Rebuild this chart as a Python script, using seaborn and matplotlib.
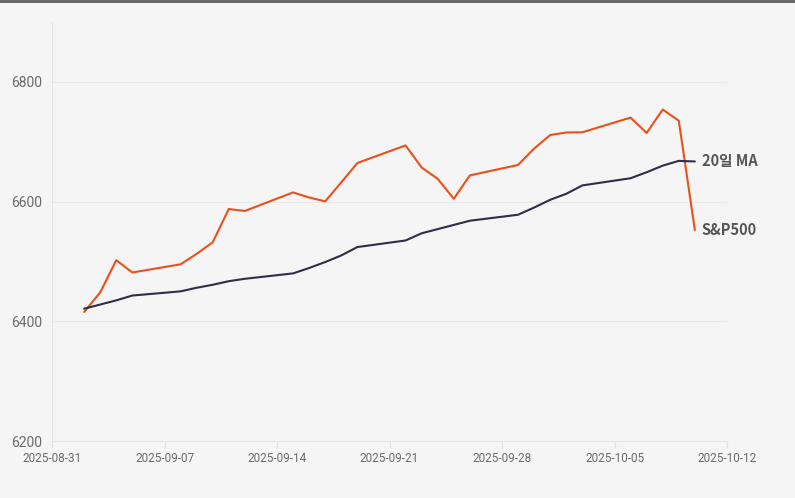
import pandas as pd
import seaborn as sns
import numpy as np
import matplotlib.pyplot as plt
import matplotlib.dates as mdates
from matplotlib.patches import Rectangle

dates = ['2025-09-02', '2025-09-03', '2025-09-04', '2025-09-05',
         '2025-09-08', '2025-09-09', '2025-09-10', '2025-09-11', '2025-09-12',
         '2025-09-15', '2025-09-16', '2025-09-17', '2025-09-18', '2025-09-19',
         '2025-09-22', '2025-09-23', '2025-09-24', '2025-09-25', '2025-09-26',
         '2025-09-29', '2025-09-30', '2025-10-01', '2025-10-02', '2025-10-03',
         '2025-10-06', '2025-10-07', '2025-10-08', '2025-10-09', '2025-10-10']
spx = [6415.5, 6448.3, 6502.1, 6481.5,
       6495.2, 6512.6, 6532.0, 6587.5, 6584.3,
       6615.3, 6606.8, 6600.4, 6632.0, 6664.4,
       6693.8, 6656.9, 6638.0, 6604.7, 6643.7,
       6661.2, 6688.5, 6711.2, 6715.4, 6715.8,
       6740.3, 6714.6, 6753.7, 6735.1, 6552.5]
ma20 = [6421, 6428, 6435, 6443,
        6450, 6456, 6461, 6467, 6471,
        6480, 6489, 6499, 6510, 6524,
        6535, 6547, 6554, 6561, 6568,
        6578, 6590, 6603, 6613, 6627,
        6639, 6649, 6660, 6668, 6667]
y_ticks = [6200, 6400, 6600, 6800]
x_ticks = ['2025-08-31', '2025-09-07', '2025-09-14', '2025-09-21',
           '2025-09-28', '2025-10-05', '2025-10-12']

bg = '#f5f5f5'
orange = '#e8501c'
navy = '#2f2d48'
label_gray = '#555555'
tick_gray = '#6a6a6a'

df = pd.DataFrame({
    'date': pd.to_datetime(dates * 2),
    'value': spx + ma20,
    'series': ['S&P500'] * len(dates) + ['20일 MA'] * len(dates),
})

sns.set_theme(style='white')
plt.rcParams['font.family'] = ['Roboto', 'Noto Sans CJK KR', 'DejaVu Sans']

fig = plt.figure(figsize=(7.95, 4.98), dpi=100, facecolor=bg)
ax = fig.add_axes([52 / 795, 1 - 441 / 498, 675 / 795, 419 / 498])
ax.set_facecolor(bg)

sns.lineplot(data=df, x='date', y='value', hue='series',
             palette={'S&P500': orange, '20일 MA': navy},
             hue_order=['S&P500', '20일 MA'],
             linewidth=1.5, legend=False, ax=ax)

ax.set_xlim(pd.Timestamp('2025-08-31'), pd.Timestamp('2025-10-12'))
ax.set_ylim(6200, 6900)
ax.set_yticks(y_ticks)
ax.set_xticks(pd.to_datetime(x_ticks))
ax.xaxis.set_major_formatter(mdates.DateFormatter('%Y-%m-%d'))
ax.set_xlabel('')
ax.set_ylabel('')

ax.grid(axis='y', color='#e9e9e9', linewidth=0.8)
ax.grid(axis='x', visible=False)
for side in ['top', 'right']:
    ax.spines[side].set_visible(False)
for side in ['left', 'bottom']:
    ax.spines[side].set_color('#e6e6e6')
    ax.spines[side].set_linewidth(0.8)

ax.tick_params(axis='y', length=0, pad=7, labelsize=10, labelcolor=tick_gray)
ax.tick_params(axis='x', length=5, width=0.8, color='#e2e2e2', pad=3,
               labelsize=8.5, labelcolor=tick_gray, bottom=True)

# end labels next to the last points
last = pd.Timestamp(dates[-1])
for name, vals in [('20일 MA', ma20), ('S&P500', spx)]:
    ax.annotate(name, xy=(last, vals[-1]), xytext=(5, 0),
                textcoords='offset points', va='center', ha='left',
                fontsize=10.5, fontweight='bold', color=label_gray,
                family=['Noto Sans CJK KR', 'DejaVu Sans'])

# dark strip along the top edge
fig.patches.append(Rectangle((0, 1 - 3 / 498), 1, 3 / 498, transform=fig.transFigure,
                             facecolor='#686868', edgecolor='none'))

fig.savefig('out.png', dpi=100, facecolor=bg)
